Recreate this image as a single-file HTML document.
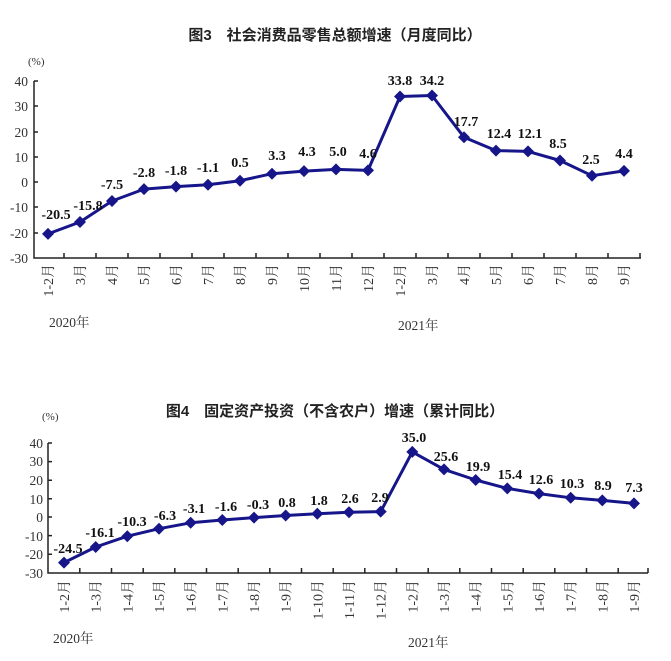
<!DOCTYPE html>
<html><head><meta charset="utf-8"><style>
body{margin:0;background:#fff}
svg{display:block}
.t{font-family:"Liberation Sans","Noto Sans CJK SC",sans-serif;font-size:15px;font-weight:bold;fill:#222}
.tk{font-family:"Liberation Serif","Noto Serif CJK SC",serif;font-size:13.5px;fill:#333}
.v{font-family:"Liberation Serif",serif;font-size:14px;font-weight:bold;fill:#111;text-anchor:middle}
.xl{font-family:"Liberation Serif","Noto Serif CJK SC",serif;font-size:14px;fill:#333;text-anchor:end}
.ln{fill:none;stroke:#16168a;stroke-width:3;stroke-linejoin:round}
.ax{stroke:#222;stroke-width:1.5;fill:none}
</style></head><body>
<svg width="671" height="661" viewBox="0 0 671 661" xmlns="http://www.w3.org/2000/svg">
<defs><path id="d" d="M0,-6 L6,0 L0,6 L-6,0Z" fill="#16168a"/></defs>
<!-- Chart 1 -->
<text class="t" x="335" y="40" text-anchor="middle">图3　社会消费品零售总额增速（月度同比）</text>
<text class="tk" x="28" y="65" style="font-size:11px">(%)</text>
<g class="tk" text-anchor="end">
<text x="28" y="86">40</text><text x="28" y="111">30</text><text x="28" y="137">20</text><text x="28" y="162">10</text><text x="28" y="187">0</text><text x="28" y="212">-10</text><text x="28" y="238">-20</text><text x="28" y="263">-30</text>
</g>
<path class="ax" d="M34,81 V258 H641 M34,81 h4 M34,106 h4 M34,132 h4 M34,157 h4 M34,182 h4 M34,207 h4 M34,233 h4"/>
<path class="ax" d="M64,258v-5M96,258v-5M128,258v-5M160,258v-5M192,258v-5M224,258v-5M256,258v-5M288,258v-5M320,258v-5M352,258v-5M384,258v-5M416,258v-5M448,258v-5M480,258v-5M512,258v-5M544,258v-5M576,258v-5M608,258v-5M640,258v-5"/>
<polyline class="ln" points="48,233.9 80,222 112,201 144,189.1 176,186.6 208,184.8 240,180.7 272,173.7 304,171.1 336,169.4 368,170.4 400,96.5 432,95.5 464,137.2 496,150.6 528,151.4 560,160.5 592,175.7 624,170.9"/>
<g>
<use href="#d" x="48" y="233.9"/><use href="#d" x="80" y="222"/><use href="#d" x="112" y="201"/><use href="#d" x="144" y="189.1"/><use href="#d" x="176" y="186.6"/><use href="#d" x="208" y="184.8"/><use href="#d" x="240" y="180.7"/><use href="#d" x="272" y="173.7"/><use href="#d" x="304" y="171.1"/><use href="#d" x="336" y="169.4"/><use href="#d" x="368" y="170.4"/><use href="#d" x="400" y="96.5"/><use href="#d" x="432" y="95.5"/><use href="#d" x="464" y="137.2"/><use href="#d" x="496" y="150.6"/><use href="#d" x="528" y="151.4"/><use href="#d" x="560" y="160.5"/><use href="#d" x="592" y="175.7"/><use href="#d" x="624" y="170.9"/>
</g>
<g class="v">
<text x="56" y="219">-20.5</text><text x="88" y="210">-15.8</text><text x="112" y="189">-7.5</text><text x="144" y="177">-2.8</text><text x="176" y="175">-1.8</text><text x="208" y="172">-1.1</text><text x="240" y="167">0.5</text><text x="277" y="160">3.3</text><text x="307" y="156">4.3</text><text x="338" y="156">5.0</text><text x="368" y="158">4.6</text><text x="400" y="85">33.8</text><text x="432" y="85">34.2</text><text x="466" y="126">17.7</text><text x="499" y="138">12.4</text><text x="530" y="138">12.1</text><text x="558" y="148">8.5</text><text x="591" y="164">2.5</text><text x="624" y="158">4.4</text>
</g>
<g class="xl">
<text transform="translate(53,264) rotate(-90)">1-2月</text><text transform="translate(85,264) rotate(-90)">3月</text><text transform="translate(117,264) rotate(-90)">4月</text><text transform="translate(149,264) rotate(-90)">5月</text><text transform="translate(181,264) rotate(-90)">6月</text><text transform="translate(213,264) rotate(-90)">7月</text><text transform="translate(245,264) rotate(-90)">8月</text><text transform="translate(277,264) rotate(-90)">9月</text><text transform="translate(309,264) rotate(-90)">10月</text><text transform="translate(341,264) rotate(-90)">11月</text><text transform="translate(373,264) rotate(-90)">12月</text><text transform="translate(405,264) rotate(-90)">1-2月</text><text transform="translate(437,264) rotate(-90)">3月</text><text transform="translate(469,264) rotate(-90)">4月</text><text transform="translate(501,264) rotate(-90)">5月</text><text transform="translate(533,264) rotate(-90)">6月</text><text transform="translate(565,264) rotate(-90)">7月</text><text transform="translate(597,264) rotate(-90)">8月</text><text transform="translate(629,264) rotate(-90)">9月</text>
</g>
<text class="tk" x="49" y="327">2020年</text>
<text class="tk" x="398" y="330">2021年</text>

<!-- Chart 2 -->
<text class="t" x="335" y="416" text-anchor="middle">图4　固定资产投资（不含农户）增速（累计同比）</text>
<text class="tk" x="42" y="420" style="font-size:11px">(%)</text>
<g class="tk" text-anchor="end">
<text x="43" y="448">40</text><text x="43" y="466">30</text><text x="43" y="485">20</text><text x="43" y="504">10</text><text x="43" y="522">0</text><text x="43" y="541">-10</text><text x="43" y="559">-20</text><text x="43" y="578">-30</text>
</g>
<path class="ax" d="M48,443 V573 H648 M48,443 h4 M48,461.6 h4 M48,480.2 h4 M48,498.8 h4 M48,517 h4 M48,535.6 h4 M48,554.2 h4"/>
<path class="ax" d="M79.8,573v-5M111.5,573v-5M143.2,573v-5M174.8,573v-5M206.5,573v-5M238.2,573v-5M269.8,573v-5M301.5,573v-5M333.2,573v-5M364.8,573v-5M396.5,573v-5M428.2,573v-5M459.8,573v-5M491.5,573v-5M523.2,573v-5M554.8,573v-5M586.5,573v-5M618.2,573v-5M648,573v-5"/>
<polyline class="ln" points="64,562.6 95.7,547 127.3,536.2 159,528.7 190.7,522.8 222.3,520 254,517.6 285.7,515.5 317.3,513.7 349,512.2 380.7,511.6 412.3,451.9 444,469.4 475.7,480 507.3,488.4 539,493.6 570.7,497.8 602.3,500.4 634,503.4"/>
<g>
<use href="#d" x="64" y="562.6"/><use href="#d" x="95.7" y="547"/><use href="#d" x="127.3" y="536.2"/><use href="#d" x="159" y="528.7"/><use href="#d" x="190.7" y="522.8"/><use href="#d" x="222.3" y="520"/><use href="#d" x="254" y="517.6"/><use href="#d" x="285.7" y="515.5"/><use href="#d" x="317.3" y="513.7"/><use href="#d" x="349" y="512.2"/><use href="#d" x="380.7" y="511.6"/><use href="#d" x="412.3" y="451.9"/><use href="#d" x="444" y="469.4"/><use href="#d" x="475.7" y="480"/><use href="#d" x="507.3" y="488.4"/><use href="#d" x="539" y="493.6"/><use href="#d" x="570.7" y="497.8"/><use href="#d" x="602.3" y="500.4"/><use href="#d" x="634" y="503.4"/>
</g>
<g class="v">
<text x="68" y="553">-24.5</text><text x="100" y="537">-16.1</text><text x="132" y="526">-10.3</text><text x="165" y="520">-6.3</text><text x="194" y="513">-3.1</text><text x="226" y="511">-1.6</text><text x="258" y="509">-0.3</text><text x="287" y="507">0.8</text><text x="319" y="505">1.8</text><text x="350" y="503">2.6</text><text x="380" y="502">2.9</text><text x="414" y="442">35.0</text><text x="446" y="461">25.6</text><text x="478" y="471">19.9</text><text x="510" y="479">15.4</text><text x="541" y="484">12.6</text><text x="572" y="488">10.3</text><text x="603" y="490">8.9</text><text x="634" y="492">7.3</text>
</g>
<g class="xl">
<text transform="translate(69,580) rotate(-90)">1-2月</text><text transform="translate(100.7,580) rotate(-90)">1-3月</text><text transform="translate(132.3,580) rotate(-90)">1-4月</text><text transform="translate(164,580) rotate(-90)">1-5月</text><text transform="translate(195.7,580) rotate(-90)">1-6月</text><text transform="translate(227.3,580) rotate(-90)">1-7月</text><text transform="translate(259,580) rotate(-90)">1-8月</text><text transform="translate(290.7,580) rotate(-90)">1-9月</text><text transform="translate(322.3,580) rotate(-90)">1-10月</text><text transform="translate(354,580) rotate(-90)">1-11月</text><text transform="translate(385.7,580) rotate(-90)">1-12月</text><text transform="translate(417.3,580) rotate(-90)">1-2月</text><text transform="translate(449,580) rotate(-90)">1-3月</text><text transform="translate(480.7,580) rotate(-90)">1-4月</text><text transform="translate(512.3,580) rotate(-90)">1-5月</text><text transform="translate(544,580) rotate(-90)">1-6月</text><text transform="translate(575.7,580) rotate(-90)">1-7月</text><text transform="translate(607.3,580) rotate(-90)">1-8月</text><text transform="translate(639,580) rotate(-90)">1-9月</text>
</g>
<text class="tk" x="53" y="643">2020年</text>
<text class="tk" x="408" y="647">2021年</text>
</svg>
</body></html>
